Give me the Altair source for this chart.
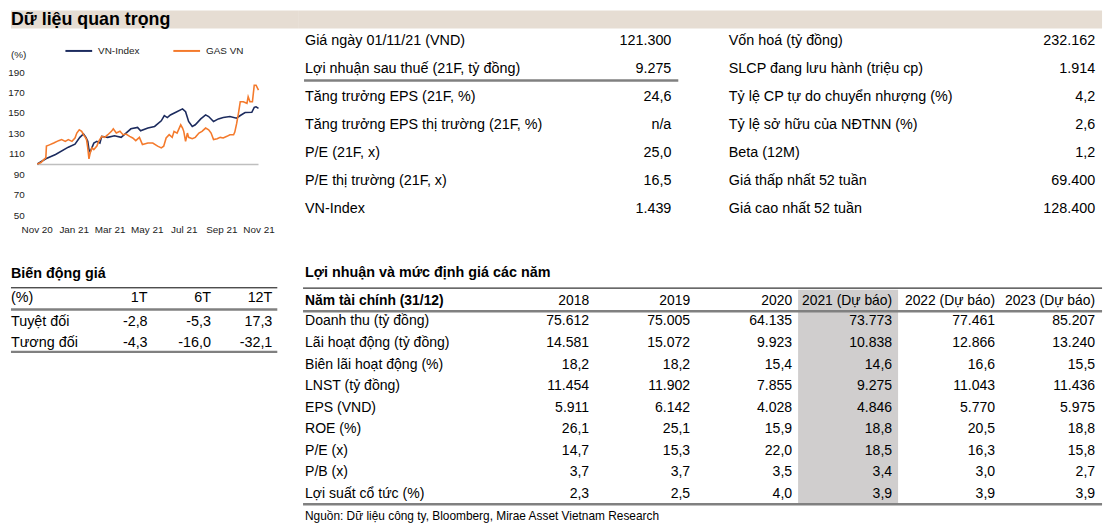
import altair as alt
import pandas as pd

FONT = "Liberation Sans"
TXT = "#000000"
NAVY = "#1c2b5e"
ORANGE = "#f47a2c"
BAR = "#e6ddd3"
SHADE = "#d0cece"
GRAY = "#808080"
CHART_TXT = "#222222"
FS = 14.5

# ---------------- data ----------------
header_title = ["Dữ liệu quan trọng"]

vn_dates = ["2020-11-02", "2020-11-16", "2020-12-02", "2020-12-23", "2021-01-03", "2021-01-11",
            "2021-01-17", "2021-01-21", "2021-01-24", "2021-01-26", "2021-01-28", "2021-02-03",
            "2021-02-08", "2021-02-13", "2021-02-16", "2021-02-26", "2021-03-09", "2021-03-20",
            "2021-03-28", "2021-04-05", "2021-04-16", "2021-04-21", "2021-05-03", "2021-05-14",
            "2021-05-25", "2021-05-30", "2021-06-04", "2021-06-09", "2021-06-18", "2021-06-29",
            "2021-07-04", "2021-07-09", "2021-07-15", "2021-07-20", "2021-07-29", "2021-08-06",
            "2021-08-11", "2021-08-19", "2021-08-27", "2021-09-04", "2021-09-15", "2021-09-26",
            "2021-10-02", "2021-10-10", "2021-10-21", "2021-10-25", "2021-10-28", "2021-11-01"]
vn_values = [100.5, 105.6, 109.8, 117.0, 120.0, 126.6,
             130.0, 126.6, 122.7, 114.7, 112.4, 121.0,
             122.7, 121.0, 127.6, 126.6, 128.2, 126.6,
             130.8, 135.0, 136.3, 133.0, 135.7, 137.3,
             142.8, 148.0, 146.0, 148.6, 151.2, 154.5,
             151.8, 142.2, 137.3, 138.9, 144.7, 148.6,
             147.0, 142.2, 144.7, 146.0, 147.0, 145.4,
             148.0, 150.9, 151.2, 156.0, 156.5, 155.0]

gas_dates = ["2020-11-02", "2020-11-08", "2020-11-13", "2020-11-16", "2020-11-17", "2020-11-21",
             "2020-11-29", "2020-12-07", "2020-12-12", "2020-12-18", "2020-12-23", "2020-12-29",
             "2021-01-03", "2021-01-06", "2021-01-10", "2021-01-14", "2021-01-17", "2021-01-20",
             "2021-01-22", "2021-01-24", "2021-01-26", "2021-01-28", "2021-01-31", "2021-02-03",
             "2021-02-08", "2021-02-11", "2021-02-16", "2021-02-21", "2021-02-26", "2021-03-04",
             "2021-03-07", "2021-03-12", "2021-03-18", "2021-03-23", "2021-03-28", "2021-04-03",
             "2021-04-08", "2021-04-13", "2021-04-19", "2021-04-24", "2021-05-03", "2021-05-11",
             "2021-05-19", "2021-05-25", "2021-05-29", "2021-06-02", "2021-06-07", "2021-06-12",
             "2021-06-15", "2021-06-20", "2021-06-26", "2021-06-29", "2021-07-01", "2021-07-04",
             "2021-07-07", "2021-07-09", "2021-07-15", "2021-07-20", "2021-07-26", "2021-07-31",
             "2021-08-06", "2021-08-11", "2021-08-15", "2021-08-19", "2021-08-25", "2021-08-30",
             "2021-09-04", "2021-09-10", "2021-09-15", "2021-09-21", "2021-09-23", "2021-09-26",
             "2021-09-29", "2021-10-02", "2021-10-07", "2021-10-13", "2021-10-15", "2021-10-18",
             "2021-10-22", "2021-10-25", "2021-10-28", "2021-11-01"]
gas_values = [100.5, 102.0, 105.0, 106.6, 118.0, 119.0,
              121.0, 123.4, 124.4, 122.7, 124.4, 122.7,
              126.0, 130.8, 134.0, 132.5, 129.2, 126.6,
              124.4, 116.3, 105.6, 111.4, 116.3, 114.7,
              118.0, 122.7, 127.6, 126.6, 129.2, 132.5,
              135.0, 130.8, 132.5, 129.2, 129.9, 127.6,
              126.0, 123.4, 126.6, 119.5, 121.0, 121.0,
              118.0, 116.3, 118.0, 126.0, 129.2, 126.6,
              132.5, 130.8, 138.9, 135.7, 132.5, 122.7,
              130.8, 126.6, 125.3, 126.6, 130.8, 132.5,
              135.7, 134.0, 130.8, 124.4, 125.3, 126.6,
              126.0, 127.6, 129.2, 129.2, 131.8, 140.0,
              150.2, 161.5, 161.5, 160.0, 166.4, 161.5,
              161.5, 177.7, 177.7, 172.9]

series_names = ["VN-Index", "GAS VN"]
base_level = [100]
y_ticks = [50, 70, 90, 110, 130, 150, 170, 190]
unit_label = ["(%)"]

key_left_labels = ["Giá ngày 01/11/21 (VND)", "Lợi nhuận sau thuế (21F, tỷ đồng)",
                   "Tăng trưởng EPS (21F, %)", "Tăng trưởng EPS thị trường (21F, %)",
                   "P/E (21F, x)", "P/E thị trường (21F, x)", "VN-Index"]
key_left_values = ["121.300", "9.275", "24,6", "n/a", "25,0", "16,5", "1.439"]
key_right_labels = ["Vốn hoá (tỷ đồng)", "SLCP đang lưu hành (triệu cp)",
                    "Tỷ lệ CP tự do chuyển nhượng (%)", "Tỷ lệ sở hữu của NĐTNN (%)",
                    "Beta (12M)", "Giá thấp nhất 52 tuần", "Giá cao nhất 52 tuần"]
key_right_values = ["232.162", "1.914", "4,2", "2,6", "1,2", "69.400", "128.400"]

perf_title = ["Biến động giá"]
perf_unit = ["(%)"]
perf_cols = ["1T", "6T", "12T"]
perf_rows = ["Tuyệt đối", "Tương đối"]
perf_abs = ["-2,8", "-5,3", "17,3"]
perf_rel = ["-4,3", "-16,0", "-32,1"]

fin_title = ["Lợi nhuận và mức định giá các năm"]
fin_head = ["Năm tài chính (31/12)"]
fin_cols = ["2018", "2019", "2020", "2021 (Dự báo)", "2022 (Dự báo)", "2023 (Dự báo)"]
fin_rows = ["Doanh thu (tỷ đồng)", "Lãi hoạt động (tỷ đồng)", "Biên lãi hoạt động (%)",
            "LNST (tỷ đồng)", "EPS (VND)", "ROE (%)", "P/E (x)", "P/B (x)", "Lợi suất cổ tức (%)"]
fin_2018 = ["75.612", "14.581", "18,2", "11.454", "5.911", "26,1", "14,7", "3,7", "2,3"]
fin_2019 = ["75.005", "15.072", "18,2", "11.902", "6.142", "25,1", "15,3", "3,7", "2,5"]
fin_2020 = ["64.135", "9.923", "15,4", "7.855", "4.028", "15,9", "22,0", "3,5", "4,0"]
fin_2021 = ["73.773", "10.838", "14,6", "9.275", "4.846", "18,8", "18,5", "3,4", "3,9"]
fin_2022 = ["77.461", "12.866", "16,6", "11.043", "5.770", "20,5", "16,3", "3,0", "3,9"]
fin_2023 = ["85.207", "13.240", "15,5", "11.436", "5.975", "18,8", "15,8", "2,7", "3,9"]
fin_source = ["Nguồn: Dữ liệu công ty, Bloomberg, Mirae Asset Vietnam Research"]

# ---------------- layout ----------------
W0, W1 = 290, 817
H_HEAD, H_TOP, H_BOT = 22, 225, 275


def one(texts):
    return pd.DataFrame({"txt": texts})


def fixed_text(texts, x, y, align="left", bold=False, size=FS, baseline="middle", color=TXT):
    return alt.Chart(one(texts)).mark_text(
        align=align, baseline=baseline, fontSize=size, font=FONT,
        fontWeight="bold" if bold else "normal", color=color
    ).encode(x=alt.value(x), y=alt.value(y), text="txt:N")


def col_text(texts, x, align, yscale, bold=False, size=FS):
    df = pd.DataFrame({"row": list(range(len(texts))), "txt": texts})
    return alt.Chart(df).mark_text(
        align=align, baseline="middle", fontSize=size, font=FONT,
        fontWeight="bold" if bold else "normal", color=TXT
    ).encode(x=alt.value(x), y=alt.Y("row:Q", scale=yscale, axis=None), text="txt:N")


def hrule(y, x1, x2, color, width):
    return alt.Chart(pd.DataFrame({"k": [0]})).mark_rule(color=color, strokeWidth=width).encode(
        x=alt.value(x1), x2=alt.value(x2), y=alt.value(y))


def box(x1, x2, y1, y2, color):
    return alt.Chart(pd.DataFrame({"k": [0]})).mark_rect(color=color).encode(
        x=alt.value(x1), x2=alt.value(x2), y=alt.value(y1), y2=alt.value(y2))


# header row
head_left = alt.layer(
    box(0, W0, 0, 18, BAR),
    fixed_text(header_title, 0, 9.5, bold=True, size=18),
).properties(width=W0, height=H_HEAD)
head_right = box(0, 812, 0, 18, BAR).properties(width=W1, height=H_HEAD)

# line chart
df_line = pd.concat([
    pd.DataFrame({"date": vn_dates, "value": vn_values, "series": series_names[0]}),
    pd.DataFrame({"date": gas_dates, "value": gas_values, "series": series_names[1]}),
], ignore_index=True)
df_base = pd.DataFrame({"start": [vn_dates[0]], "end": [vn_dates[-1]], "level": base_level})
df_yt = pd.DataFrame({"tick": y_ticks, "txt": [str(v) for v in y_ticks]})

xs = alt.Scale(domain=[alt.DateTime(year=2020, month=11, date=1),
                       alt.DateTime(year=2021, month=11, date=1)], range=[26, 250])
ys = alt.Scale(domain=[50, 190], range=[185, 40.7], nice=False, zero=False)
x_axis = alt.Axis(values=[alt.DateTime(year=2020, month=11, date=1),
                          alt.DateTime(year=2021, month=1, date=1),
                          alt.DateTime(year=2021, month=3, date=1),
                          alt.DateTime(year=2021, month=5, date=1),
                          alt.DateTime(year=2021, month=7, date=1),
                          alt.DateTime(year=2021, month=9, date=1),
                          alt.DateTime(year=2021, month=11, date=1)],
                  format="%b %y", title=None, ticks=False, domain=False, grid=False,
                  labelFontSize=10, labelFont=FONT, labelColor=CHART_TXT, labelPadding=4,
                  labelFlush=False, labelOverlap=False)
cs = alt.Scale(domain=series_names, range=[NAVY, ORANGE])
leg = alt.Legend(orient="none", legendX=54, legendY=26, direction="horizontal", title=None,
                 symbolType="stroke", symbolSize=729, symbolStrokeWidth=2,
                 labelFontSize=10, labelFont=FONT, labelColor=CHART_TXT,
                 labelOffset=5, columnPadding=30)

base_rule = alt.Chart(df_base).mark_rule(color="#bfbfbf", strokeWidth=1.5).encode(
    x=alt.X("start:T", scale=xs, axis=x_axis), x2="end:T",
    y=alt.Y("level:Q", scale=ys, axis=None))
line_base = alt.Chart(df_line).mark_line(strokeWidth=1.6).encode(
    x=alt.X("date:T", scale=xs, axis=x_axis),
    y=alt.Y("value:Q", scale=ys, axis=None),
    color=alt.Color("series:N", scale=cs, legend=leg))
navy = line_base.transform_filter(alt.datum.series == series_names[0])
orange = line_base.transform_filter(alt.datum.series == series_names[1])
y_labels = alt.Chart(df_yt).mark_text(
    align="right", baseline="middle", fontSize=10, font=FONT, color=CHART_TXT
).encode(x=alt.value(14), y=alt.Y("tick:Q", scale=ys, axis=None), text="txt:N")
line_panel = alt.layer(
    base_rule, navy, orange, y_labels,
    fixed_text(unit_label, 0, 22.7, size=10, color=CHART_TXT),
).properties(width=W0, height=190)

# top key-data tables
ys_top = alt.Scale(domain=[0, 6], range=[9, 178], nice=False, zero=False)
top_panel = alt.layer(
    hrule(48.5, 6, 384, GRAY, 2.5),
    col_text(key_left_labels, 7, "left", ys_top),
    col_text(key_left_values, 377, "right", ys_top),
    col_text(key_right_labels, 435, "left", ys_top),
    col_text(key_right_values, 805, "right", ys_top),
).properties(width=W1, height=H_TOP)

# price change table
ys_perf = alt.Scale(domain=[0, 1], range=[67.7, 88.3], nice=False, zero=False)
perf_anchor = [138, 202, 264]
perf_layers = [
    fixed_text(perf_title, 0, 19, bold=True),
    hrule(33, 0, 269, "#000000", 1),
    hrule(55, 0, 269, GRAY, 2.5),
    hrule(97.7, 0, 269, GRAY, 2.5),
    fixed_text(perf_unit, 0, 43.5),
    col_text(perf_rows, 0, "left", ys_perf),
]
for i, c in enumerate(perf_cols):
    perf_layers.append(fixed_text([c], perf_anchor[i], 43.5, align="right"))
    perf_layers.append(col_text([perf_abs[i], perf_rel[i]], perf_anchor[i], "right", ys_perf))
perf_panel = alt.layer(*perf_layers).properties(width=W0, height=H_BOT)

# financial table
ys_fin = alt.Scale(domain=[0, 8], range=[67, 241], nice=False, zero=False)
fin_anchor = [294, 396, 499, 600, 704, 805]
fin_vals = [fin_2018, fin_2019, fin_2020, fin_2021, fin_2022, fin_2023]
fin_layers = [
    box(505, 606, 35, 251, SHADE),
    fixed_text(fin_title, 7, 18.5, bold=True),
    hrule(33.3, 5, 812, "#000000", 1),
    hrule(56.7, 5, 812, GRAY, 2.5),
    hrule(251.5, 5, 812, GRAY, 2.5),
    fixed_text(fin_head, 7, 46, bold=True, size=14),
    col_text(fin_rows, 7, "left", ys_fin, size=14.2),
    fixed_text(fin_source, 7, 263.3, size=12),
]
for i, c in enumerate(fin_cols):
    fin_layers.append(fixed_text([c], fin_anchor[i], 46, align="right", size=14))
    fin_layers.append(col_text(fin_vals[i], fin_anchor[i], "right", ys_fin, size=14.2))
fin_panel = alt.layer(*fin_layers).properties(width=W1, height=H_BOT)

chart = alt.concat(
    head_left, head_right,
    line_panel, top_panel,
    perf_panel, fin_panel,
    columns=2, spacing=0, bounds="flush"
).properties(padding=0).configure(font=FONT).configure_view(stroke=None)

chart.save("out.html", embed_options={"renderer": "svg", "actions": False})
